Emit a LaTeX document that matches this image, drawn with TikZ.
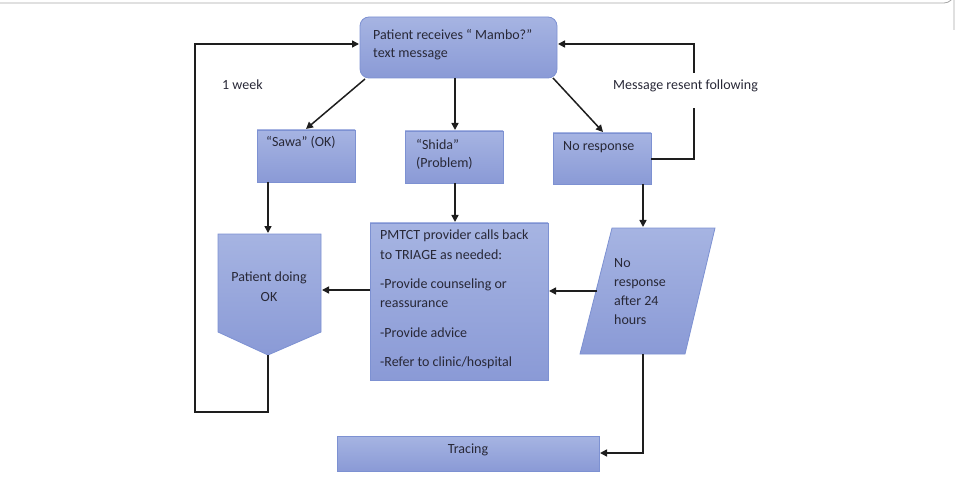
\documentclass[tikz,border=0pt]{standalone}
\usepackage{fontspec}
\setmainfont{Carlito}
\usetikzlibrary{arrows.meta}
\definecolor{boxtop}{RGB}{166,180,226}
\definecolor{boxbot}{RGB}{138,154,214}
\definecolor{bordc}{RGB}{125,145,210}
\definecolor{txtc}{RGB}{40,40,55}
\definecolor{linec}{RGB}{30,30,30}
\tikzset{
  boxfill/.style={draw=bordc, line width=0.8pt, top color=boxtop, bottom color=boxbot},
  txt/.style={font=\fontsize{14}{18.5}\selectfont, text=txtc, align=left, inner sep=0pt, anchor=north west},
  arr/.style={draw=linec, line width=1.5pt, -{Triangle[length=7pt,width=7pt]}},
  ln/.style={draw=linec, line width=1.5pt},
}
\begin{document}
\begin{tikzpicture}[x=1pt,y=-1pt]
\useasboundingbox (0,0) rectangle (957,478);
% outer frame fragment
\draw[gray!70, line width=0.8pt] (0,3) -- (944,3) arc[start angle=90, end angle=0, radius=10] -- (954,30);

% top box
\path[boxfill, rounded corners=9pt] (360,17) rectangle (557,78);
\coordinate (top) at (458.5,47.5);
\node[txt] (toptxt) at (373,29) {Patient receives \char"201C{} Mambo?\char"201D\\text message};

% three response boxes
\path[boxfill] (257,130) rectangle (355,182);
\node[inner sep=0pt] (sawa) at (306,156) {};
\node[txt] (sawatxt) at (266,136) {\char"201C Sawa\char"201D{} (OK)};

\path[boxfill] (405,131) rectangle (503,183);
\node[inner sep=0pt] (shida) at (454,157) {};
\node[txt] (shidatxt) at (416,139) {\char"201C Shida\char"201D\\(Problem)};

\path[boxfill] (553,133) rectangle (651,184);
\node[inner sep=0pt] (nores) at (602,158) {};
\node[txt] (norestxt) at (563,141) {No response};

% Patient doing OK (off-page shape)
\path[boxfill] (218,234) -- (321,234) -- (321,332) -- (268,355) -- (218,332) -- cycle;
\node[font=\fontsize{14}{20}\selectfont, text=txtc, align=center, inner sep=0pt] (ok) at (269,287) {Patient doing\\OK};

% PMTCT box
\path[boxfill] (370,223) rectangle (548,380);
\node[txt, font=\fontsize{14}{19.5}\selectfont] (pmtct) at (380,230) {PMTCT provider calls back\\to TRIAGE as needed:\\[9.5pt]-Provide counseling or\\reassurance\\[10pt]-Provide advice\\[10pt]-Refer to clinic/hospital};

% parallelogram
\path[boxfill] (612,228) -- (715,228) -- (685,354) -- (580,354) -- cycle;
\node[txt, font=\fontsize{14}{19}\selectfont] (nr24) at (614,258) {No\\response\\after 24\\hours};

% Tracing
\path[boxfill] (337,436) rectangle (599,471);
\node[font=\fontsize{14}{18}\selectfont, text=txtc, inner sep=0pt] (tracing) at (468,450) {Tracing};

% labels
\node[txt] (week) at (222,80) {1 week};
\node[txt] (resent) at (613,80) {Message resent following};

% connector coordinates
\coordinate (tA) at (365,79);
\coordinate (sawaT) at (306,129);
\coordinate (tB) at (455,78);
\coordinate (shidaT) at (455,130);
\coordinate (tC) at (553,78);
\coordinate (noresT) at (603,132);
\coordinate (sawaB) at (268,182);
\coordinate (okT) at (268,233);
\coordinate (shidaB) at (455,183);
\coordinate (pmT) at (455,222);
\coordinate (pmL) at (370,290);
\coordinate (okR) at (322,290);
\coordinate (noresB) at (643,184);
\coordinate (parT) at (643,227);
\coordinate (parL) at (597,291);
\coordinate (pmR) at (549,291);
\coordinate (parB) at (643,354);
\coordinate (trR) at (600,453);
\coordinate (okB) at (268,355);
\coordinate (topL) at (359,44);
\coordinate (noresR) at (651,159);
\coordinate (topR) at (558,44);
\coordinate (gapA) at (694,73);
\coordinate (gapB) at (694,108);

\draw[arr] (tA) -- (sawaT);
\draw[arr] (tB) -- (shidaT);
\draw[arr] (tC) -- (noresT);
\draw[arr] (sawaB) -- (okT);
\draw[arr] (shidaB) -- (pmT);
\draw[arr] (pmL) -- (okR);
\draw[arr] (noresB) -- (parT);
\draw[arr] (parL) -- (pmR);
\draw[arr] (parB) |- (trR);
\draw[arr] (okB) -- (268,412) -| (195,44) -- (topL);
\draw[ln] (noresR) -| (gapB);
\draw[arr] (gapA) |- (topR);
\end{tikzpicture}
\end{document}
